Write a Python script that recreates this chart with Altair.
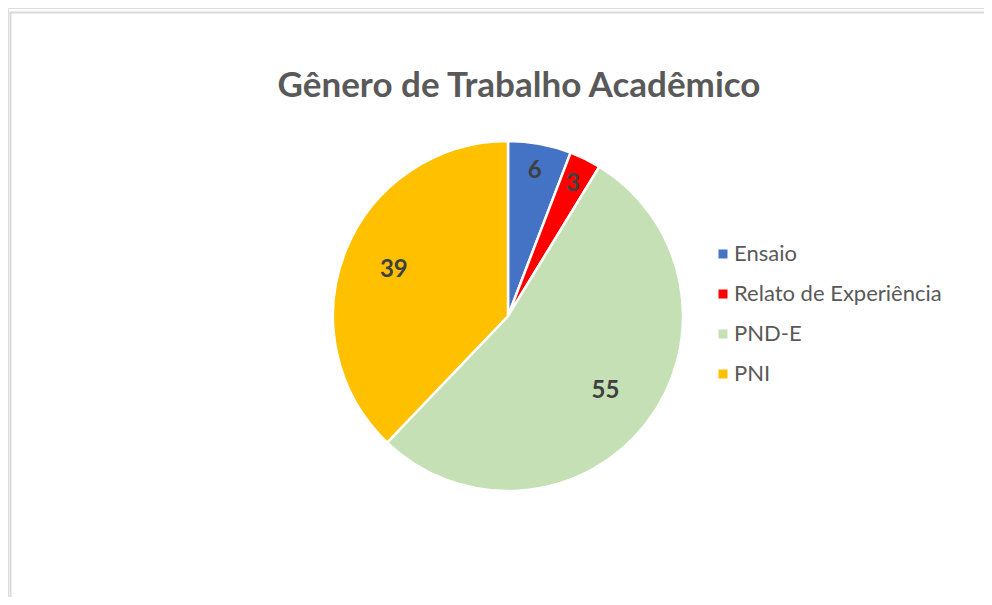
import altair as alt
import pandas as pd

categories = ["Ensaio", "Relato de Experiência", "PND-E", "PNI"]
values = [6, 3, 55, 39]
colors = ["#4472C4", "#FF0000", "#C5E0B4", "#FFC000"]
title_text = "Gênero de Trabalho Acadêmico"

df = pd.DataFrame({"categoria": categories, "valor": values, "ordem": list(range(len(values)))})

W, H = 976, 589
CX, CY, R = 500, 308, 175
FONT = "Lato"

base = alt.Chart(df)

pie = base.mark_arc(outerRadius=R, stroke="white", strokeWidth=2.5).encode(
    theta=alt.Theta("valor:Q", stack=True),
    order=alt.Order("ordem:Q"),
    color=alt.Color(
        "categoria:N",
        scale=alt.Scale(domain=categories, range=colors),
        sort=categories,
        legend=alt.Legend(
            title=None,
            orient="none",
            legendX=704,
            legendY=235,
            symbolType="square",
            symbolSize=81,
            symbolStrokeWidth=0,
            labelFont=FONT,
            labelFontSize=22,
            labelColor="#595959",
            labelOffset=0,
            labelLimit=0,
            rowPadding=18,
            padding=0,
        ),
    ),
    x=alt.value(CX),
    y=alt.value(CY),
)

def labels(cond, radius):
    return base.mark_text(
        radius=radius, font=FONT, fontSize=24, fontWeight="bold", color="#404040"
    ).encode(
        theta=alt.Theta("valor:Q", stack=True),
        order=alt.Order("ordem:Q"),
        text=alt.condition(cond, "valor:Q", alt.value("")),
        x=alt.value(CX),
        y=alt.value(CY),
    )

small_labels = labels("datum.valor < 10", 147)
big_labels = labels("datum.valor >= 10", 123)

frame_data = alt.Data(values=[{"k": 1}])
left_rule = alt.Chart(frame_data).mark_rule(color="#D9D9D9", strokeWidth=2).encode(
    x=alt.value(2.5), y=alt.value(3.8), y2=alt.value(H + 20)
)
top_rule = alt.Chart(frame_data).mark_rule(color="#D9D9D9", strokeWidth=2).encode(
    x=alt.value(1.5), x2=alt.value(W + 20), y=alt.value(4.5)
)

title = alt.Chart(frame_data).mark_text(
    font=FONT, fontSize=35, fontWeight="bold", color="#595959", align="center", baseline="alphabetic"
).encode(text=alt.value(title_text), x=alt.value(511), y=alt.value(89))

chart = alt.layer(left_rule, top_rule, pie, small_labels, big_labels, title).properties(
    width=W, height=H, autosize=alt.AutoSizeParams(type="none"), padding=0
).configure_view(stroke=None).configure(background="white")

chart.save("out.html", embed_options={"renderer": "svg", "actions": False})
